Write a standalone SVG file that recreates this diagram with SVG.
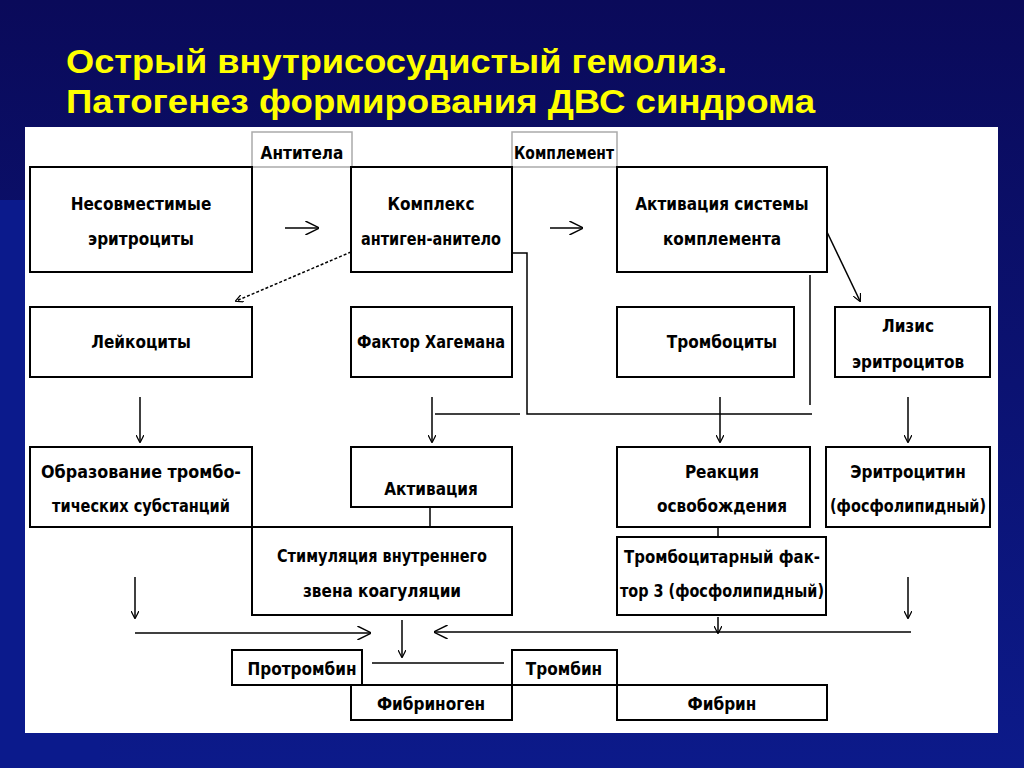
<svg xmlns="http://www.w3.org/2000/svg" width="1024" height="768" viewBox="0 0 1024 768">
<defs>
<linearGradient id="bg" x1="0" y1="0" x2="0" y2="1"><stop offset="0" stop-color="#0a0a5a"/><stop offset="1" stop-color="#0c1a8a"/></linearGradient>
<marker id="ah" viewBox="0 0 10 10" refX="9" refY="5" markerWidth="8" markerHeight="8" orient="auto" markerUnits="userSpaceOnUse"><path d="M0,0 L10,5 L0,10" fill="none" stroke="#000" stroke-width="1.5"/></marker>
<marker id="ahb" viewBox="0 0 10 10" refX="9" refY="5" markerWidth="14" markerHeight="14" orient="auto" markerUnits="userSpaceOnUse"><path d="M0,0 L10,5 L0,10" fill="none" stroke="#000" stroke-width="1"/></marker>
</defs>
<style>
.b{fill:#fff;stroke:#000;stroke-width:2}
.l{fill:#fff;stroke:#aaa;stroke-width:1.5}
.t{font-family:"DejaVu Sans Condensed","Liberation Sans",sans-serif;font-weight:bold;font-size:17px;text-anchor:middle;fill:#000}
.c{fill:none;stroke:#000;stroke-width:1.5}
.h{font-family:"Liberation Sans",Arial,sans-serif;font-weight:bold;font-size:33px;fill:#ffff00}
</style>
<rect width="1024" height="768" fill="url(#bg)"/>
<rect x="0" y="200" width="100" height="568" fill="#0b1a8c"/>
<rect x="25" y="127" width="973" height="606" fill="#fff"/>
<text class="h" x="66" y="73" textLength="661" lengthAdjust="spacingAndGlyphs">Острый внутрисосудистый гемолиз.</text>
<text class="h" x="66" y="113" textLength="749" lengthAdjust="spacingAndGlyphs">Патогенез формирования ДВС синдрома</text>

<g id="n_antitela"><rect class="l" x="252" y="132" width="100" height="35"/><text class="t" x="302" y="159">Антитела</text></g>
<g id="n_komplement"><rect class="l" x="512" y="132" width="105" height="35"/><text class="t" x="564" y="159" textLength="100" lengthAdjust="spacingAndGlyphs">Комплемент</text></g>
<g id="n_nesovm"><rect class="b" x="30" y="167" width="222" height="105"/><text class="t" x="141" y="210">Несовместимые</text><text class="t" x="141" y="245">эритроциты</text></g>
<g id="n_kompleks"><rect class="b" x="351" y="167" width="161" height="105"/><text class="t" x="431" y="210">Комплекс</text><text class="t" x="431" y="245" textLength="140" lengthAdjust="spacingAndGlyphs">антиген-анитело</text></g>
<g id="n_aktsist"><rect class="b" x="617" y="167" width="210" height="105"/><text class="t" x="722" y="210">Активация системы</text><text class="t" x="722" y="245">комплемента</text></g>
<g id="n_leik"><rect class="b" x="30" y="307" width="222" height="70"/><text class="t" x="141" y="348">Лейкоциты</text></g>
<g id="n_hageman"><rect class="b" x="351" y="307" width="161" height="70"/><text class="t" x="431" y="348" textLength="148" lengthAdjust="spacingAndGlyphs">Фактор Хагемана</text></g>
<g id="n_tromb"><rect class="b" x="617" y="307" width="177" height="70"/><text class="t" x="722" y="348">Тромбоциты</text></g>
<g id="n_lizis"><rect class="b" x="835" y="307" width="155" height="70"/><text class="t" x="908" y="332">Лизис</text><text class="t" x="908" y="368">эритроцитов</text></g>
<g id="n_obraz"><rect class="b" x="30" y="447" width="222" height="80"/><text class="t" x="141" y="478" textLength="200" lengthAdjust="spacingAndGlyphs">Образование тромбо-</text><text class="t" x="141" y="512" textLength="178" lengthAdjust="spacingAndGlyphs">тических субстанций</text></g>
<g id="n_aktiv"><rect class="b" x="351" y="447" width="161" height="60"/><text class="t" x="431" y="495">Активация</text></g>
<g id="n_reakc"><rect class="b" x="617" y="447" width="193" height="80"/><text class="t" x="722" y="478">Реакция</text><text class="t" x="722" y="512">освобождения</text></g>
<g id="n_eritrocitin"><rect class="b" x="826" y="447" width="164" height="80"/><text class="t" x="908" y="478">Эритроцитин</text><text class="t" x="908" y="512" textLength="156" lengthAdjust="spacingAndGlyphs">(фосфолипидный)</text></g>
<g id="n_stim"><rect class="b" x="252" y="527" width="260" height="88"/><text class="t" x="382" y="562" textLength="210" lengthAdjust="spacingAndGlyphs">Стимуляция внутреннего</text><text class="t" x="382" y="597">звена коагуляции</text></g>
<g id="n_trfaktor"><rect class="b" x="617" y="537" width="209" height="78"/><text class="t" x="722" y="563" textLength="196" lengthAdjust="spacingAndGlyphs">Тромбоцитарный фак-</text><text class="t" x="722" y="597" textLength="204" lengthAdjust="spacingAndGlyphs">тор 3 (фосфолипидный)</text></g>
<g id="n_protromb"><rect class="b" x="232" y="650" width="130" height="35"/><text class="t" x="302" y="675">Протромбин</text></g>
<g id="n_trombin"><rect class="b" x="512" y="650" width="105" height="35"/><text class="t" x="564" y="675">Тромбин</text></g>
<g id="n_fibrinogen"><rect class="b" x="351" y="685" width="161" height="35"/><text class="t" x="431" y="710">Фибриноген</text></g>
<g id="n_fibrin"><rect class="b" x="617" y="685" width="210" height="35"/><text class="t" x="722" y="710">Фибрин</text></g>

<g id="connectors">
<path class="c" d="M285,228 H318" marker-end="url(#ahb)"/>
<path class="c" d="M550,228 H582" marker-end="url(#ahb)"/>
<path class="c" d="M351,252 L236,301" stroke-dasharray="3,2" marker-end="url(#ah)"/>
<path class="c" d="M827,232 L860,301" stroke-width="1" marker-end="url(#ah)"/>
<path class="c" d="M512,253 H527 V414 H812"/>
<path class="c" d="M810,275 V405"/>
<path class="c" d="M435,414 H520"/>
<path class="c" d="M432,397 V442" marker-end="url(#ah)"/>
<path class="c" d="M720,397 V442" marker-end="url(#ah)"/>
<path class="c" d="M140,397 V442" marker-end="url(#ah)"/>
<path class="c" d="M908,397 V442" marker-end="url(#ah)"/>
<path class="c" d="M430,507 V527"/>
<path class="c" d="M718,527 V537"/>
<path class="c" d="M135,577 V618" marker-end="url(#ah)"/>
<path class="c" d="M908,577 V618" marker-end="url(#ah)"/>
<path class="c" d="M135,633 H370" marker-end="url(#ahb)"/>
<path class="c" d="M911,632 H435" marker-end="url(#ahb)"/>
<path class="c" d="M718,617 V633" marker-end="url(#ah)"/>
<path class="c" d="M402,620 V657" marker-end="url(#ah)"/>
<path class="c" d="M372,663 H504"/>
</g>
</svg>
